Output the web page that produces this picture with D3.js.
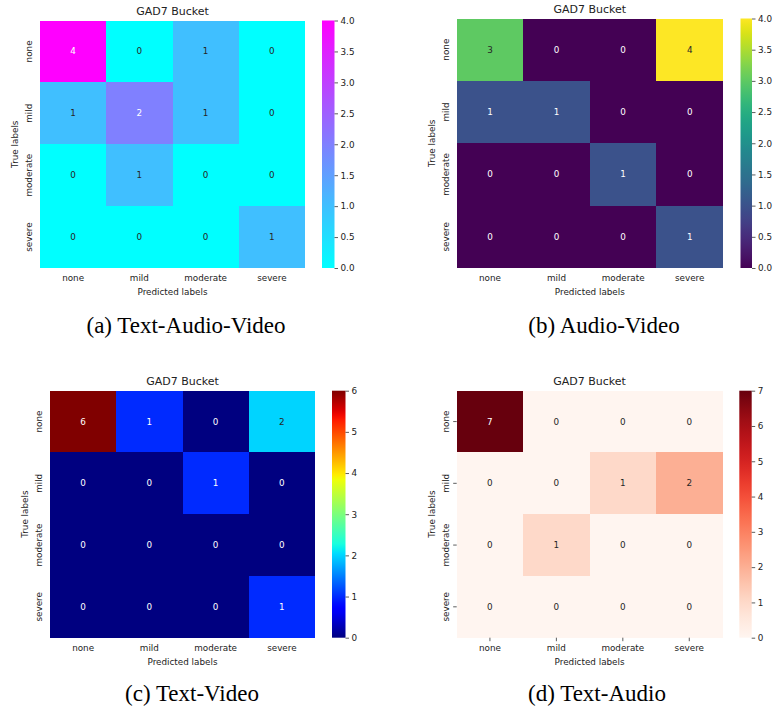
<!DOCTYPE html>
<html>
<head>
<meta charset="utf-8">
<script src="https://cdn.jsdelivr.net/npm/d3@7"></script>
<style>
  html, body { margin: 0; padding: 0; background: #fff; }
  svg { display: block; }
  text { font-family: "DejaVu Sans", sans-serif; }
  text.caption { font-family: "Liberation Serif", "Times New Roman", serif; }
</style>
</head>
<body>
<svg id="chart" width="774" height="711"></svg>
<script>
// ---- data ----
const categories = ["none", "mild", "moderate", "severe"];
const chartTitle = "GAD7 Bucket";
const xLabel = "Predicted labels";
const yLabel = "True labels";

const matTextAudioVideo = [[4, 0, 1, 0], [1, 2, 1, 0], [0, 1, 0, 0], [0, 0, 0, 1]];
const matAudioVideo     = [[3, 0, 0, 4], [1, 1, 0, 0], [0, 0, 1, 0], [0, 0, 0, 1]];
const matTextVideo      = [[6, 1, 0, 2], [0, 0, 1, 0], [0, 0, 0, 0], [0, 0, 0, 1]];
const matTextAudio      = [[7, 0, 0, 0], [0, 0, 1, 2], [0, 1, 0, 0], [0, 0, 0, 0]];

const ticksA = [0, 0.5, 1.0, 1.5, 2.0, 2.5, 3.0, 3.5, 4.0];
const ticksB = [0, 0.5, 1.0, 1.5, 2.0, 2.5, 3.0, 3.5, 4.0];
const ticksC = [0, 1, 2, 3, 4, 5, 6];
const ticksD = [0, 1, 2, 3, 4, 5, 6, 7];

const captions = ["(a) Text-Audio-Video", "(b) Audio-Video", "(c) Text-Video", "(d) Text-Audio"];

// ---- colormaps ----
const cool = t => d3.interpolateRgb("#00ffff", "#ff00ff")(t);
const jetR = d3.scaleLinear().domain([0, 0.35, 0.66, 0.89, 1]).range([0, 0, 1, 1, 0.5]).clamp(true);
const jetG = d3.scaleLinear().domain([0, 0.125, 0.375, 0.64, 0.91, 1]).range([0, 0, 1, 1, 0, 0]).clamp(true);
const jetB = d3.scaleLinear().domain([0, 0.11, 0.34, 0.65, 1]).range([0.5, 1, 1, 0, 0]).clamp(true);
const jet = t => d3.rgb(jetR(t) * 255, jetG(t) * 255, jetB(t) * 255).formatHex();
const viridis = d3.interpolateViridis;
const reds = d3.interpolateReds;

function textColorFor(c) {
  const rgb = d3.rgb(c);
  const lin = v => { v = v / 255; return v <= 0.03928 ? v / 12.92 : Math.pow((v + 0.055) / 1.055, 2.4); };
  const lum = 0.2126 * lin(rgb.r) + 0.7152 * lin(rgb.g) + 0.0722 * lin(rgb.b);
  return lum > 0.408 ? "#262626" : "#ffffff";
}

const panels = [
  { mat: matTextAudioVideo, cmap: cool, ticks: ticksA, fmt: d3.format(".1f"),
    x0: 40, x1: 305, y0: 20.5, y1: 268, cb0: 322, cb1: 334.5, titleY: 15, showTicks: false,
    caption: captions[0], capX: 186, capY: 333 },
  { mat: matAudioVideo, cmap: viridis, ticks: ticksB, fmt: d3.format(".1f"),
    x0: 456.7, x1: 723, y0: 18.5, y1: 268, cb0: 740.5, cb1: 752, titleY: 13, showTicks: false,
    caption: captions[1], capX: 604, capY: 333 },
  { mat: matTextVideo, cmap: jet, ticks: ticksC, fmt: d3.format("d"),
    x0: 50, x1: 315, y0: 390.7, y1: 637.7, cb0: 332, cb1: 345.5, titleY: 385, showTicks: false,
    caption: captions[2], capX: 192, capY: 701 },
  { mat: matTextAudio, cmap: reds, ticks: ticksD, fmt: d3.format("d"),
    x0: 456.7, x1: 722.5, y0: 390.7, y1: 637.7, cb0: 739.3, cb1: 751.7, titleY: 385, showTicks: true,
    caption: captions[3], capX: 597, capY: 701 }
];

const svg = d3.select("#chart");
const defs = svg.append("defs");
const FS = 8.8;
const labelColor = "#222";

panels.forEach((p, pi) => {
  const g = svg.append("g");
  const vmax = d3.max(p.mat.flat());
  const x = d3.scaleBand().domain(categories).range([p.x0, p.x1]);
  const y = d3.scaleBand().domain(categories).range([p.y0, p.y1]);
  const color = d3.scaleLinear().domain([0, vmax]).range([0, 1]);

  const cells = [];
  p.mat.forEach((row, ri) => row.forEach((v, ci) => cells.push({ r: categories[ri], c: categories[ci], v })));

  g.selectAll("rect.cell").data(cells).join("rect")
    .attr("class", "cell")
    .attr("x", d => x(d.c)).attr("y", d => y(d.r))
    .attr("width", x.bandwidth() + 0.4).attr("height", y.bandwidth() + 0.4)
    .attr("fill", d => p.cmap(color(d.v)))
    .attr("shape-rendering", "crispEdges");

  g.selectAll("text.ann").data(cells).join("text")
    .attr("class", "ann")
    .attr("x", d => x(d.c) + x.bandwidth() / 2)
    .attr("y", d => y(d.r) + y.bandwidth() / 2)
    .attr("text-anchor", "middle").attr("dominant-baseline", "central")
    .attr("font-size", FS)
    .attr("fill", d => textColorFor(p.cmap(color(d.v))))
    .text(d => d.v);

  // x axis
  const tickLen = p.showTicks ? 3.5 : 0;
  const xAxis = g.append("g").attr("transform", `translate(0,${p.y1})`)
    .call(d3.axisBottom(x).tickSize(tickLen).tickPadding(p.showTicks ? 3.5 : 7));
  xAxis.select(".domain").remove();
  xAxis.selectAll("text").attr("font-size", FS).attr("fill", labelColor);
  xAxis.selectAll("line").attr("stroke", "#333").attr("stroke-width", 0.8);

  // y axis (labels rotated)
  const yAxis = g.append("g").attr("transform", `translate(${p.x0},0)`)
    .call(d3.axisLeft(y).tickSize(tickLen).tickFormat(""));
  yAxis.select(".domain").remove();
  yAxis.selectAll("line").attr("stroke", "#333").attr("stroke-width", 0.8);
  g.selectAll("text.ylab").data(categories).join("text")
    .attr("class", "ylab")
    .attr("transform", d => `translate(${p.x0 - 11},${y(d) + y.bandwidth() / 2}) rotate(-90)`)
    .attr("text-anchor", "middle").attr("dominant-baseline", "central")
    .attr("font-size", FS).attr("fill", labelColor)
    .text(d => d);

  // axis titles
  g.append("text")
    .attr("x", (p.x0 + p.x1) / 2).attr("y", p.y1 + 24)
    .attr("text-anchor", "middle").attr("dominant-baseline", "central")
    .attr("font-size", FS).attr("fill", labelColor).text(xLabel);
  g.append("text")
    .attr("transform", `translate(${p.x0 - 25},${(p.y0 + p.y1) / 2}) rotate(-90)`)
    .attr("text-anchor", "middle").attr("dominant-baseline", "central")
    .attr("font-size", FS).attr("fill", labelColor).text(yLabel);

  // chart title
  g.append("text")
    .attr("x", (p.x0 + p.x1) / 2).attr("y", p.titleY)
    .attr("text-anchor", "middle")
    .attr("font-size", 11).attr("fill", labelColor).text(chartTitle);

  // colorbar
  const gradId = "grad" + pi;
  const grad = defs.append("linearGradient").attr("id", gradId)
    .attr("x1", 0).attr("y1", 1).attr("x2", 0).attr("y2", 0);
  d3.range(0, 1.0001, 0.02).forEach(t => {
    grad.append("stop").attr("offset", t).attr("stop-color", p.cmap(t));
  });
  g.append("rect")
    .attr("x", p.cb0).attr("y", p.y0)
    .attr("width", p.cb1 - p.cb0).attr("height", p.y1 - p.y0)
    .attr("fill", `url(#${gradId})`);
  const cbScale = d3.scaleLinear().domain([0, vmax]).range([p.y1, p.y0]);
  const cbAxis = g.append("g").attr("transform", `translate(${p.cb1},0)`)
    .call(d3.axisRight(cbScale).tickValues(p.ticks).tickFormat(p.fmt).tickSize(3.5).tickPadding(2.5));
  cbAxis.select(".domain").remove();
  cbAxis.selectAll("text").attr("font-size", FS).attr("fill", labelColor);
  cbAxis.selectAll("line").attr("stroke", "#333").attr("stroke-width", 0.8);

  // caption
  svg.append("text")
    .attr("class", "caption")
    .attr("x", p.capX).attr("y", p.capY)
    .attr("text-anchor", "middle")
    .attr("font-size", 23).attr("fill", "#000")
    .text(p.caption);
});
</script>
</body>
</html>
